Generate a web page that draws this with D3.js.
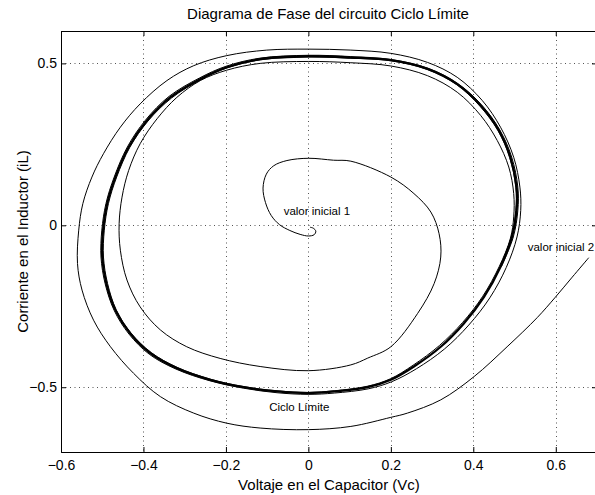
<!DOCTYPE html>
<html>
<head>
<meta charset="utf-8">
<script src="https://cdn.jsdelivr.net/npm/d3@7"></script>
<style>
  body { margin: 0; background: #fff; }
  svg { display: block; font-family: "Liberation Sans", Arial, sans-serif; }
</style>
</head>
<body>
<div id="chart"></div>
<script>
// tick values
var xTicks = [-0.6, -0.4, -0.2, 0, 0.2, 0.4, 0.6]
var yTicks = [-0.5, 0, 0.5]

// limit cycle (thick line)
var cicloV = [0, 0.103, 0.2, 0.289, 0.361, 0.418, 0.462, 0.49, 0.505, 0.505, 0.494, 0.466, 0.426, 0.377, 0.321, 0.256, 0.2, 0.144, 0.063,
    0, -0.076, -0.157, -0.238, -0.319, -0.383, -0.432, -0.468, -0.49, -0.5, -0.498, -0.488, -0.468, -0.436, -0.392, -0.335, -0.262, -0.198, -0.117]
var cicloI = [0.522, 0.518, 0.51, 0.483, 0.436, 0.37, 0.293, 0.21, 0.118, 0.046, -0.036, -0.128, -0.221, -0.303, -0.375, -0.436, -0.477, -0.5, -0.513,
    -0.518, -0.513, -0.5, -0.477, -0.441, -0.395, -0.334, -0.262, -0.18, -0.098, -0.015, 0.067, 0.149, 0.241, 0.323, 0.395, 0.452, 0.488, 0.513]

// trajectory from initial value 1 (near the origin)
var inicial1V = [0.004, 0.012, 0.018, 0.014, 0.0, -0.02, -0.045, -0.07, -0.09, -0.104, -0.11, -0.102, -0.084, -0.052, 0.001, 0.061, 0.103, 0.2,
    0.256, 0.297, 0.317, 0.321, 0.305, 0.265, 0.2, 0.144, 0.103, 0,
    -0.117, -0.214, -0.295, -0.359, -0.408, -0.44, -0.456, -0.459, -0.452, -0.436, -0.408, -0.367, -0.319, -0.262, -0.198, -0.117,
    0, 0.103, 0.2, 0.289, 0.361, 0.418, 0.458, 0.486, 0.498, 0.498,
    0.49, 0.463, 0.423, 0.374, 0.318, 0.254, 0.199, 0.143, 0.063,
    0, -0.076, -0.157, -0.238, -0.318, -0.381, -0.43, -0.466, -0.487, -0.497, -0.495, -0.485, -0.465, -0.433, -0.389, -0.332, -0.26, -0.197, -0.116,
    0, 0.103, 0.2, 0.289, 0.36, 0.416, 0.46, 0.488, 0.503, 0.503, 0.492, 0.465]
var inicial1I = [-0.006, -0.009, -0.018, -0.029, -0.033, -0.028, -0.016, 0.002, 0.03, 0.07, 0.115, 0.158, 0.184, 0.2, 0.207, 0.201, 0.198, 0.149,
    0.098, 0.041, -0.026, -0.098, -0.18, -0.272, -0.375, -0.41, -0.431, -0.449,
    -0.436, -0.411, -0.375, -0.323, -0.252, -0.169, -0.077, 0.005, 0.087, 0.169, 0.252, 0.329, 0.395, 0.447, 0.479, 0.5,
    0.506, 0.502, 0.492, 0.462, 0.411, 0.339, 0.262, 0.18, 0.098, 0.026,
    -0.04, -0.127, -0.219, -0.3, -0.371, -0.432, -0.474, -0.497, -0.511,
    -0.516, -0.511, -0.498, -0.475, -0.439, -0.393, -0.333, -0.261, -0.18, -0.098, -0.015, 0.067, 0.149, 0.241, 0.322, 0.393, 0.45, 0.486, 0.511,
    0.52, 0.516, 0.508, 0.481, 0.434, 0.368, 0.292, 0.21, 0.118, 0.046, -0.036, -0.128]

// trajectory from initial value 2 (outside the cycle)
var inicial2V = [0.68, 0.64, 0.599, 0.555, 0.482, 0.402, 0.321, 0.24, 0.2, 0.103, 0,
    -0.117, -0.198, -0.278, -0.359, -0.424, -0.48, -0.521, -0.549, -0.56, -0.557, -0.547, -0.525, -0.497, -0.456, -0.408, -0.343, -0.278, -0.198, -0.101,
    0, 0.103, 0.2, 0.289, 0.361, 0.422, 0.466, 0.498, 0.513, 0.515, 0.506,
    0.48, 0.44, 0.389, 0.33, 0.262, 0.202, 0.145, 0.063,
    0, -0.076, -0.157, -0.239, -0.321, -0.386, -0.435, -0.471, -0.493, -0.503, -0.501, -0.491, -0.471, -0.439, -0.395, -0.338, -0.264, -0.2, -0.118,
    0, 0.103, 0.2, 0.29, 0.362, 0.42, 0.464, 0.493, 0.508, 0.508, 0.497, 0.468]
var inicial2I = [-0.1, -0.16, -0.222, -0.285, -0.375, -0.467, -0.539, -0.58, -0.593, -0.621, -0.631,
    -0.626, -0.611, -0.58, -0.529, -0.457, -0.375, -0.293, -0.2, -0.118, -0.015, 0.067, 0.149, 0.221, 0.303, 0.375, 0.447, 0.493, 0.524, 0.541,
    0.544, 0.541, 0.531, 0.503, 0.457, 0.385, 0.303, 0.21, 0.118, 0.046, -0.036,
    -0.13, -0.224, -0.308, -0.382, -0.443, -0.483, -0.505, -0.518,
    -0.522, -0.517, -0.503, -0.48, -0.444, -0.398, -0.336, -0.263, -0.18, -0.098, -0.015, 0.067, 0.149, 0.242, 0.325, 0.398, 0.455, 0.491, 0.516,
    0.525, 0.521, 0.512, 0.485, 0.438, 0.372, 0.295, 0.211, 0.118, 0.046, -0.036, -0.128]

// text labels in the plot
var etiquetas = [
    { texto: "valor inicial 1", v: -0.06, i: 0.032 },
    { texto: "valor inicial 2", v: 0.532, i: -0.078 },
    { texto: "Ciclo Límite", v: -0.095, i: -0.573 }
]

// set the dimensions and margins of the graph
var W = 595, H = 495
var margin = { top: 31, left: 61 }
var width = 536, height = 421

var svg = d3.select("#chart")
    .append("svg")
    .attr("width", W)
    .attr("height", H)

var g = svg.append("g")
    .attr("transform", "translate(" + margin.left + "," + margin.top + ")")

var x = d3.scaleLinear().domain([-0.6, 0.7]).range([0, width])
var y = d3.scaleLinear().domain([-0.7, 0.6]).range([height, 0])

function fmt(d) {
    return d === 0 ? "0" : (d < 0 ? "\u2212" : "") + Math.abs(d)
}

// grid
g.selectAll(".gx").data(xTicks.slice(1)).enter().append("line")
    .attr("x1", d => Math.round(x(d)) + 0.5).attr("x2", d => Math.round(x(d)) + 0.5)
    .attr("y1", 0).attr("y2", height)
    .attr("stroke", "#555").attr("stroke-dasharray", "1,3.5")
g.selectAll(".gy").data(yTicks).enter().append("line")
    .attr("y1", d => Math.round(y(d)) + 0.5).attr("y2", d => Math.round(y(d)) + 0.5)
    .attr("x1", 0).attr("x2", width)
    .attr("stroke", "#555").attr("stroke-dasharray", "1,3.5")

// axes (matlab style: ticks inside, on both sides)
var xAxis = d3.axisBottom(x).tickValues(xTicks).tickSize(-5).tickPadding(8).tickFormat(fmt)
var yAxis = d3.axisLeft(y).tickValues(yTicks).tickSize(-5).tickPadding(4).tickFormat(fmt)

g.append("g").attr("transform", "translate(0," + height + ")").call(xAxis)
g.append("g").call(d3.axisTop(x).tickValues(xTicks).tickSize(-5).tickFormat(""))
g.append("g").call(yAxis)
g.append("g").attr("transform", "translate(" + width + ",0)")
    .call(d3.axisRight(y).tickValues(yTicks).tickSize(-5).tickFormat(""))

g.selectAll(".domain").attr("stroke", "#000").attr("stroke-width", 1)
g.selectAll(".tick line").attr("stroke", "#000")
g.selectAll(".tick text").attr("font-size", 14).attr("fill", "#000")
    .attr("font-family", "Liberation Sans, Arial, sans-serif")

// curves
var line = d3.line()
    .x(d => x(d[0]))
    .y(d => y(d[1]))
    .curve(d3.curveCatmullRom)

var tray1 = inicial1V.map((v, k) => [v, inicial1I[k]])
var tray2 = inicial2V.map((v, k) => [v, inicial2I[k]])
var ciclo = cicloV.map((v, k) => [v, cicloI[k]])

g.append("path").attr("d", line(tray1))
    .attr("fill", "none").attr("stroke", "#000").attr("stroke-width", 1)
g.append("path").attr("d", line(tray2))
    .attr("fill", "none").attr("stroke", "#000").attr("stroke-width", 1)
g.append("path").attr("d", line.curve(d3.curveCatmullRomClosed)(ciclo))
    .attr("fill", "none").attr("stroke", "#000").attr("stroke-width", 2.3)

// annotations
g.selectAll(".lbl").data(etiquetas).enter().append("text")
    .attr("x", d => x(d.v))
    .attr("y", d => y(d.i))
    .attr("font-size", 11.5)
    .text(d => d.texto)

// title and axis labels
svg.append("text")
    .attr("x", margin.left + width / 2 - 1).attr("y", 19)
    .attr("text-anchor", "middle").attr("font-size", 15)
    .text("Diagrama de Fase del circuito Ciclo Límite")
svg.append("text")
    .attr("x", margin.left + width / 2).attr("y", 490)
    .attr("text-anchor", "middle").attr("font-size", 15)
    .text("Voltaje en el Capacitor (Vc)")
svg.append("text")
    .attr("transform", "translate(28," + (margin.top + height / 2) + ") rotate(-90)")
    .attr("text-anchor", "middle").attr("font-size", 15)
    .text("Corriente en el Inductor (iL)")
</script>
</body>
</html>
